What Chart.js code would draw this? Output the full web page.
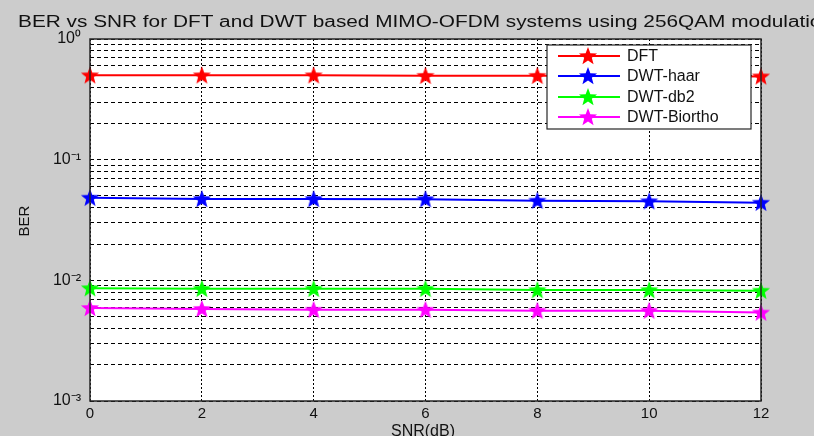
<!DOCTYPE html>
<html>
<head>
<meta charset="utf-8">
<script src="https://cdn.jsdelivr.net/npm/chart.js@4.4.1/dist/chart.umd.min.js"></script>
<style>
  html, body { margin: 0; padding: 0; background: #cccccc; }
  canvas { display: block; }
</style>
</head>
<body>
<canvas id="berChart" width="814" height="436"></canvas>
<script>
// data
const snr = [0, 2, 4, 6, 8, 10, 12];
const berDft = [0.50, 0.50, 0.50, 0.495, 0.495, 0.495, 0.49];
const berHaar = [0.0484, 0.0472, 0.0472, 0.0470, 0.0457, 0.0452, 0.0440];
const berDb2 = [0.0086, 0.0085, 0.0085, 0.0085, 0.0083, 0.0083, 0.0082];
const berBiortho = [0.0059, 0.0058, 0.0057, 0.0057, 0.0056, 0.0056, 0.0054];
const seriesNames = ['DFT', 'DWT-haar', 'DWT-db2', 'DWT-Biortho'];
const seriesColors = ['#ff0000', '#0000ff', '#00ff00', '#ff00ff'];
const xTicks = [0, 2, 4, 6, 8, 10, 12];
const yDecades = [0.001, 0.01, 0.1, 1];
const yTickLabels = ['10⁻³', '10⁻²', '10⁻¹', '10⁰'];

const FONT = '"Liberation Sans", Arial, sans-serif';

// filled pentagram marker like matlab's 'p'
function starImg(color) {
  const c = document.createElement('canvas');
  c.width = 20; c.height = 20;
  const g = c.getContext('2d');
  g.beginPath();
  for (let i = 0; i < 10; i++) {
    const r = i % 2 ? 4 : 9.5;
    const a = -Math.PI / 2 + i * Math.PI / 5;
    g.lineTo(10 + r * Math.cos(a), 10.5 + r * Math.sin(a));
  }
  g.closePath();
  g.fillStyle = color;
  g.fill();
  return c;
}
const stars = seriesColors.map(starImg);

const allSeries = [berDft, berHaar, berDb2, berBiortho];
const datasets = allSeries.map((vals, i) => ({
  label: seriesNames[i],
  data: vals,
  borderColor: seriesColors[i],
  backgroundColor: seriesColors[i],
  borderWidth: 2,
  pointStyle: stars[i],
  pointRadius: 9,
  clip: false,
  tension: 0
}));

// all 1..9 x 10^k values for the minor grid
let yGrid = [];
for (let k = -3; k < 0; k++) {
  for (let m = 1; m < 10; m++) yGrid.push(m * Math.pow(10, k));
}
yGrid.push(1);

const figurePlugin = {
  id: 'figure',
  beforeDraw(chart) {
    const ctx = chart.ctx, a = chart.chartArea;
    ctx.save();
    ctx.fillStyle = '#cccccc';
    ctx.fillRect(0, 0, chart.width, chart.height);
    ctx.fillStyle = '#ffffff';
    ctx.fillRect(a.left, a.top, a.right - a.left, a.bottom - a.top);
    ctx.restore();
  },
  afterDraw(chart) {
    const ctx = chart.ctx, a = chart.chartArea;
    ctx.save();
    // frame
    ctx.strokeStyle = '#262626';
    ctx.lineWidth = 1.5;
    ctx.strokeRect(a.left, a.top, a.right - a.left, a.bottom - a.top);

    // title (stretched a bit like the picture)
    const title = 'BER vs SNR for DFT and DWT based MIMO-OFDM systems using 256QAM modulation';
    ctx.font = '16px ' + FONT;
    ctx.fillStyle = '#111';
    ctx.textBaseline = 'alphabetic';
    const w = ctx.measureText(title).width;
    ctx.save();
    ctx.translate(18, 27);
    ctx.scale(815 / w, 1);
    ctx.fillText(title, 0, 0);
    ctx.restore();

    // axis titles
    ctx.font = '16px ' + FONT;
    ctx.textAlign = 'center';
    ctx.textBaseline = 'top';
    ctx.fillText('SNR(dB)', 423, 424);
    ctx.save();
    ctx.translate(25, 221);
    ctx.rotate(-Math.PI / 2);
    ctx.textBaseline = 'middle';
    ctx.font = '15px ' + FONT;
    ctx.fillText('BER', 0, 0);
    ctx.restore();

    // legend box
    const lx = 547, ly = 45, lw = 204, lh = 84;
    ctx.fillStyle = '#ffffff';
    ctx.fillRect(lx, ly, lw, lh);
    ctx.strokeStyle = '#262626';
    ctx.lineWidth = 1.2;
    ctx.strokeRect(lx, ly, lw, lh);
    const rows = [56, 76, 97, 117];
    ctx.font = '16px ' + FONT;
    ctx.textAlign = 'left';
    ctx.textBaseline = 'middle';
    seriesNames.forEach((name, i) => {
      const y = rows[i];
      ctx.strokeStyle = seriesColors[i];
      ctx.lineWidth = 2;
      ctx.beginPath();
      ctx.moveTo(558, y);
      ctx.lineTo(620, y);
      ctx.stroke();
      ctx.drawImage(stars[i], 588 - 10, y - 10);
      ctx.fillStyle = '#111';
      ctx.fillText(name, 627, y + 1);
    });
    ctx.restore();
  }
};

const ctx = document.getElementById('berChart').getContext('2d');
const berChart = new Chart(ctx, {
  type: 'line',
  data: { labels: snr, datasets: datasets },
  options: {
    responsive: false,
    animation: false,
    devicePixelRatio: 1,
    layout: { padding: { top: 39, right: 53, bottom: 0, left: 0 } },
    plugins: {
      legend: { display: false },
      title: { display: false },
      tooltip: { enabled: false }
    },
    scales: {
      x: {
        type: 'linear',
        min: 0,
        max: 12,
        afterBuildTicks: s => { s.ticks = xTicks.map(v => ({ value: v })); },
        afterFit: s => { s.height = 35; },
        ticks: { color: '#111', font: { family: FONT, size: 15 }, padding: 4 },
        grid: { color: '#000', lineWidth: 1, drawTicks: false },
        border: { display: false, dash: [2, 2] }
      },
      y: {
        type: 'logarithmic',
        min: 0.001,
        max: 1,
        afterBuildTicks: s => { s.ticks = yGrid.map(v => ({ value: v })); },
        afterFit: s => { s.width = 90; },
        ticks: {
          autoSkip: false,
          color: '#111',
          font: { family: FONT, size: 16 },
          padding: 9,
          callback: function (value) {
            const idx = yDecades.findIndex(d => Math.abs(d - value) / d < 1e-6);
            return idx >= 0 ? yTickLabels[idx] : '';
          }
        },
        grid: { color: '#000', lineWidth: 1, drawTicks: false },
        border: { display: false, dash: [4, 3] }
      }
    }
  },
  plugins: [figurePlugin]
});
</script>
</body>
</html>
